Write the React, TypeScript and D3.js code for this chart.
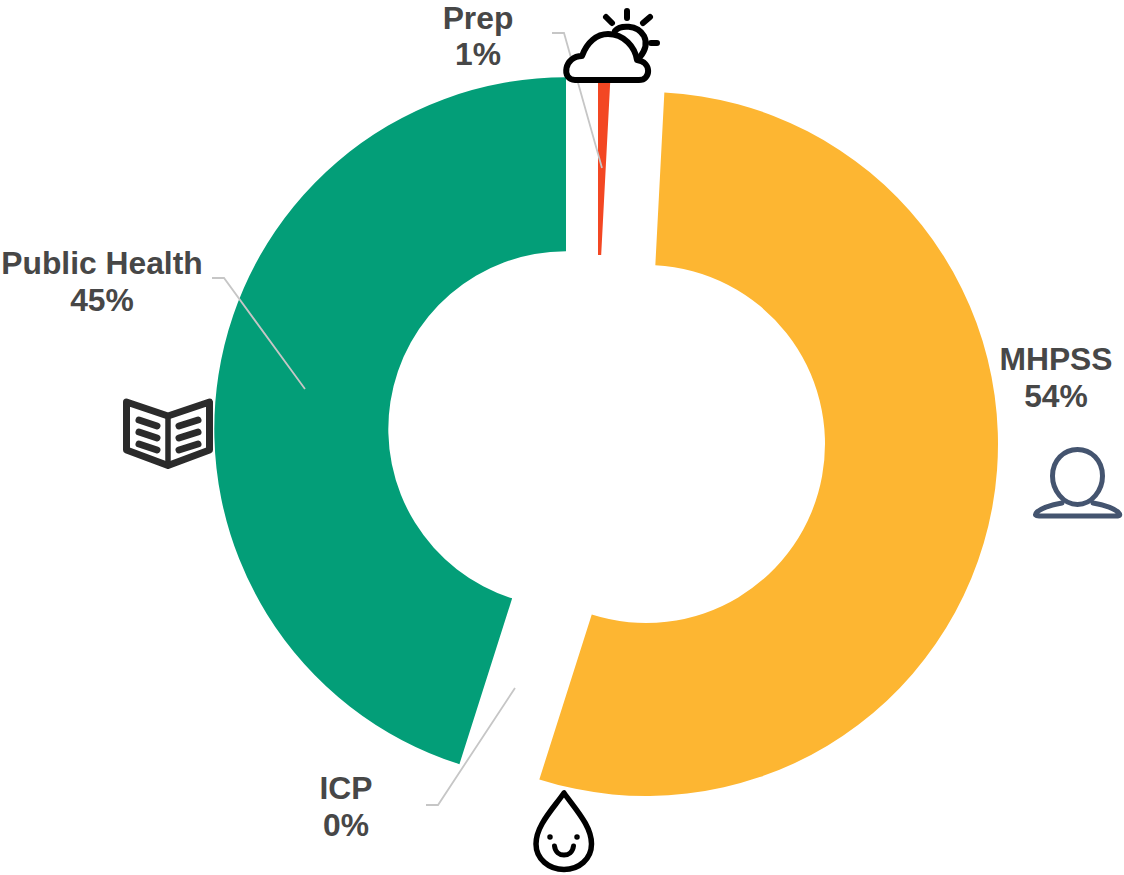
import React from "react";
import * as d3 from "d3";

const categories = ["Prep", "MHPSS", "ICP", "Public Health"];
const shares = [0.83, 54.07, 0, 45.1];
const percentLabels = ["1%", "54%", "0%", "45%"];
const sliceColors = ["#F34723", "#FDB632", "#FFFFFF", "#039E78"];
const sliceCenters: [number, number][] = [[595, 431], [646, 444], [600, 430], [566, 429]];
const sliceOuter = [351, 352, 351, 351.7];
const sliceInner = [176, 179, 176, 177.7];
const slicePad = [0.06, 0, 0, 0];
const labelX = [478, 1056, 346, 102];
const labelY = [28.6, 370, 799, 274];
const labelGap = [36, 37, 37, 37];
const leaders = [
  [[552, 33], [564, 33], [602, 168]],
  [],
  [[426, 805], [438, 805], [515, 688]],
  [[212, 278], [224, 278], [305, 389]],
];

const W = 1124, H = 875;

export default function App() {
  const pie = d3.pie<number>().sort(null).value((d) => d);
  const arcs = pie(shares);
  const arc = d3.arc<any>().padRadius(100);
  const line = d3.line();
  return (
    <svg width={W} height={H} viewBox={`0 0 ${W} ${H}`} style={{ position: "absolute", left: 0, top: 0, background: "#fff" }}>
      {arcs.map((a, i) =>
        shares[i] > 0 ? (
          <path key={i} transform={`translate(${sliceCenters[i][0]},${sliceCenters[i][1]})`} d={arc({ ...a, padAngle: slicePad[i], innerRadius: sliceInner[i], outerRadius: sliceOuter[i] }) || ""} fill={sliceColors[i]} />
        ) : null
      )}
      {leaders.map((l, i) =>
        l.length ? <path key={i} d={line(l as [number, number][]) || ""} fill="none" stroke="#C6C6C6" strokeWidth={1.8} /> : null
      )}
      {categories.map((c, i) => (
        <text key={c} x={labelX[i]} y={labelY[i]} textAnchor="middle" fontFamily="'Liberation Sans', Arial, sans-serif" fontWeight={700} fontSize={31.8} fill="#474747">
          <tspan x={labelX[i]}>{c}</tspan>
          <tspan x={labelX[i]} dy={labelGap[i]}>{percentLabels[i]}</tspan>
        </text>
      ))}
      {/* weather icon */}
      <g fill="none" stroke="#000" strokeWidth={6} strokeLinecap="round" strokeLinejoin="round">
        <path d="M606 17L612 23M627 11V18M650 17L643 23M651 43H657" />
        <path d="M615 31C620 25 637 24 644 36C648 44 644 52 640 57" />
        <path fill="#fff" d="M575 80C561 80 564 56 582 56C587 42 597 34 608 34C624 34 635 47 637 60C652 62 651 80 639 80Z" />
      </g>
      {/* book icon */}
      <g fill="none" stroke="#2B2B2B" strokeLinecap="round" strokeLinejoin="round">
        <path strokeWidth={7} d="M126.5 402L168 416L209.5 402V450L168 465.5L126.5 450Z" />
        <path strokeWidth={5.5} d="M168 416V465" />
        <path strokeWidth={7} d="M139 420L157 426M139 432L157 438M139 444L157 450M179 426L198 420M179 438L198 432M179 450L198 444" />
      </g>
      {/* drop icon */}
      <g fill="none" stroke="#000" strokeLinecap="round" strokeLinejoin="round">
        <path strokeWidth={5.5} d="M564 793C552 810 536 826 536 844C536 859 549 869.5 564 869.5C579 869.5 591.500 859 591.500 844C591.500 826 576 810 564 793Z" />
        <path strokeWidth={5} d="M554.500 846C556 858 572 858 573.500 846" />
        <circle cx={550} cy={837} r={1.5} strokeWidth={2.5} />
        <circle cx={577} cy={837} r={1.5} strokeWidth={2.5} />
      </g>
      {/* person icon */}
      <g fill="none" stroke="#44546F" strokeWidth={5} strokeLinecap="round" strokeLinejoin="round">
        <path d="M1077.500 449.500C1064 449.500 1052.500 460 1052.500 476C1052.500 490 1063 504.500 1077.500 504.500C1092 504.500 1102.500 490 1102.500 476C1102.500 460 1091 449.500 1077.500 449.500Z" />
        <path d="M1062 503C1051 505 1042 508 1037 512C1034 515 1036 516 1039 516H1116C1120 516 1121 515 1118 512C1113 508 1104 505 1093 503" />
      </g>
    </svg>
  );
}
